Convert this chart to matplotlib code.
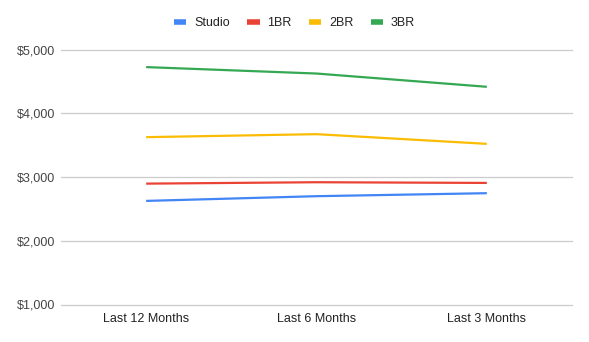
import matplotlib
matplotlib.use("Agg")
import matplotlib.pyplot as plt
from matplotlib.ticker import FuncFormatter

plt.rcParams["font.family"] = ["Liberation Sans", "DejaVu Sans"]

periods = ["Last 12 Months", "Last 6 Months", "Last 3 Months"]
studio = [2625, 2699, 2746]
one_br = [2896, 2918, 2907]
two_br = [3625, 3672, 3520]
three_br = [4724, 4623, 4415]

series = [
    ("Studio", studio, "#4285F4"),
    ("1BR", one_br, "#EA4335"),
    ("2BR", two_br, "#FBBC04"),
    ("3BR", three_br, "#34A853"),
]

fig = plt.figure(figsize=(5.89, 3.42), dpi=100)
ax = fig.add_axes([61 / 589, (342 - 304.5) / 342, 511 / 589, 255 / 342])

x = range(len(periods))
for name, vals, color in series:
    ax.plot(x, vals, color=color, lw=1.6, label=name, solid_capstyle="butt")

ax.set_xlim(-0.5, 2.5)
ax.set_ylim(1000, 5000)
ax.set_yticks([1000, 2000, 3000, 4000, 5000])
ax.yaxis.set_major_formatter(FuncFormatter(lambda v, _: f"${v:,.0f}"))
ax.set_xticks(list(x))
ax.set_xticklabels(periods)

ax.grid(axis="y", color="#cccccc", lw=0.9)
for gl in ax.get_ygridlines():
    gl.set_clip_on(False)
ax.set_axisbelow(True)
for s in ax.spines.values():
    s.set_visible(False)
ax.tick_params(length=0, labelsize=9, colors="#444444")
ax.tick_params(axis="y", pad=4)
ax.tick_params(axis="x", pad=6, labelcolor="#222222")

leg = fig.legend(loc="center", bbox_to_anchor=(0.5, 1 - 23 / 342), ncol=4,
                 frameon=False, fontsize=9, handlelength=1.0, handletextpad=0.6,
                 columnspacing=1.4)
for line in leg.get_lines():
    line.set_linewidth(4)
for t in leg.get_texts():
    t.set_color("#222222")

fig.savefig("out.png", dpi=100)
